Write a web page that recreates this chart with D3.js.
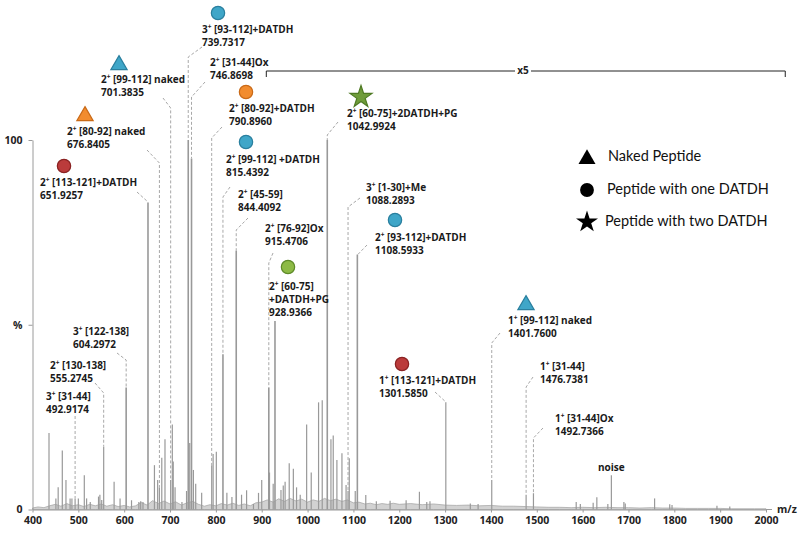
<!DOCTYPE html>
<html><head><meta charset="utf-8">
<script src="https://cdn.jsdelivr.net/npm/d3@7"></script>
<style>body{margin:0;background:#fff} svg{display:block}</style>
</head><body>
<svg id="chart" width="800" height="533"></svg>
<script>
// ---------- DATA ----------
const xTickValues = [400,500,600,700,800,900,1000,1100,1200,1300,1400,1500,1600,1700,1800,1900,2000];
const yTickValues = [0, 50, 100];
const yTickLabels = ["0", "%", "100"];

// major (annotated) peaks: m/z and displayed relative intensity (%)
const peakMz  = [492.9174, 555.2745, 604.2972, 651.9257, 676.8405, 701.3835, 739.7317, 746.8698, 790.8960, 815.4392, 844.4092, 915.4706, 928.9366, 1042.9924, 1088.2893, 1108.5933, 1301.5850, 1401.7600, 1476.7381, 1492.7366, 1662.7];
const peakInt = [3, 17, 33, 83, 6, 8, 100, 95, 12, 42, 70, 33, 51, 100, 5, 69, 29, 8, 4, 4.4, 9.3];

// minor peaks
const minorMz  = [436, 451, 456, 465, 473, 482, 486, 500, 513, 518, 526, 544, 547, 551, 578, 591, 616, 632, 636, 641, 666, 673, 682, 689, 705, 707, 711, 726, 736, 743, 751, 756, 769, 794, 801, 824, 835, 856, 867, 882, 893, 900, 917, 925, 942, 947, 951, 960, 969, 976, 984, 998, 1008, 1024, 1032, 1051, 1056, 1064, 1075, 1084, 1091, 1104, 1127, 1150, 1180, 1215, 1244, 1260, 1267, 1355, 1372, 1586, 1595, 1623, 1631, 1655, 1690, 1693, 1757, 1790, 1795, 1893, 1921];
const minorInt = [20.7, 3, 6, 16, 8, 3, 3, 3, 9.3, 3, 2, 3.5, 4, 2.6, 7.5, 3, 2.5, 2, 2.2, 2, 12, 8, 14, 19, 23, 13, 6, 2, 5, 18, 10.7, 7, 4.5, 15, 15.6, 4.5, 3.4, 4, 5.2, 1.5, 4.5, 8, 10, 7, 5.3, 6.5, 7.5, 12.5, 11, 6, 4, 23, 10, 29, 29.6, 19, 20, 13.4, 15.2, 6.6, 13.9, 5, 3.9, 2.2, 2.4, 2.5, 4.8, 2, 2.2, 1.6, 1.5, 2, 1.5, 1.8, 3.3, 1.5, 2, 1.6, 3, 1.4, 1.2, 1, 0.8];

// baseline noise floor (%)
const floorMz  = [400,412,425,437,450,462,475,487,500,512,525,537,550,562,575,587,600,612,625,637,650,662,675,687,700,712,725,737,750,762,775,787,800,812,825,837,850,862,875,887,900,912,925,937,950,962,975,987,1000,1012,1025,1037,1050,1062,1075,1087,1100,1112,1125,1137,1150,1162,1175,1187,1200,1225,1250,1275,1300,1325,1350,1375,1400,1425,1450,1475,1500,1525,1550,1575,1600,1625,1650,1675,1700,1725,1750,1775,1800,1825,1850,1875,1900,1925,1950,1975,2000];
const floorInt = [0.4,0.7,0.5,1.0,1.4,0.9,1.6,1.0,1.3,0.8,1.4,1.0,1.5,0.9,1.3,0.8,1.1,0.7,1.0,1.9,1.2,2.4,1.6,2.3,1.5,2.1,1.2,1.8,2.2,1.4,0.9,1.3,1.0,1.6,1.2,1.7,1.1,1.5,1.0,1.8,2.0,2.6,2.0,2.9,2.2,3.0,2.3,2.8,2.0,2.6,2.2,3.0,2.4,2.8,2.2,2.6,1.8,2.0,1.5,1.7,1.3,1.6,1.4,1.7,1.4,1.6,1.3,1.5,1.2,1.1,1.2,1.0,1.1,0.9,0.9,0.8,0.7,0.6,0.6,0.5,0.6,0.5,0.6,0.5,0.5,0.4,0.5,0.4,0.4,0.3,0.3,0.3,0.3,0.2,0.2,0.2,0.2];

// annotations
const annMz     = [739.7317, 746.8698, 701.3835, 790.8960, 676.8405, 815.4392, 651.9257, 844.4092, 915.4706, 928.9366, 1042.9924, 1088.2893, 1108.5933, 604.2972, 555.2745, 492.9174, 1301.5850, 1401.7600, 1476.7381, 1492.7366];
const annCharge = ["3","2","2","2","2","2","2","2","2","2","2","3","2","3","2","3","1","1","1","1"];
const annLine1  = [" [93-112]+DATDH"," [31-44]Ox"," [99-112] naked"," [80-92]+DATDH"," [80-92] naked"," [99-112] +DATDH"," [113-121]+DATDH"," [45-59]"," [76-92]Ox"," [60-75]"," [60-75]+2DATDH+PG"," [1-30]+Me"," [93-112]+DATDH"," [122-138]"," [130-138]"," [31-44]"," [113-121]+DATDH"," [99-112] naked"," [31-44]"," [31-44]Ox"];
const annExtra  = [null,null,null,null,null,null,null,null,null,"+DATDH+PG",null,null,null,null,null,null,null,null,null,null];
const annMass   = ["739.7317","746.8698","701.3835","790.8960","676.8405","815.4392","651.9257","844.4092","915.4706","928.9366","1042.9924","1088.2893","1108.5933","604.2972","555.2745","492.9174","1301.5850","1401.7600","1476.7381","1492.7366"];
const annMarker = ["circle",null,"triangle","circle","triangle","circle","circle",null,null,"circle","star",null,"circle",null,null,null,"circle","triangle",null,null];
const annColor  = ["blue",null,"blue","orange","orange","blue","red",null,null,"green","darkgreen",null,"blue",null,null,null,"red","blue",null,null];

const legendLabels = ["Naked Peptide", "Peptide with one DATDH", "Peptide with two DATDH"];
const legendShapes = ["triangle", "circle", "star"];

const noiseLabel = "noise";
const zoomLabel = "x5";
const zoomStart = 910, zoomEnd = 2042;

// ---------- LAYOUT / STYLE ----------
const palette = {
  blue:{fill:"#3fa6c8", stroke:"#2a7f9e"},
  orange:{fill:"#f28c2e", stroke:"#c96a18"},
  red:{fill:"#bb3b3b", stroke:"#8a2222"},
  green:{fill:"#8dba45", stroke:"#5e8a28"},
  darkgreen:{fill:"#6f9c3a", stroke:"#4f7a24"}
};
// label anchor (left x, centre y of first line), marker position, leader start and knee y
const annLayout = [
  {lx:202, ly:30,  mx:218, my:13,  sx:202, sy:47,  ky:57},
  {lx:210, ly:63,  sx:205, sy:82,  ky:97},
  {lx:101, ly:80,  mx:119, my:63,  sx:163, sy:98,  ky:108},
  {lx:229, ly:109, mx:246, my:92,  sx:222, sy:127, ky:138},
  {lx:67,  ly:132, mx:85,  my:114, sx:147, sy:150, ky:163},
  {lx:226, ly:160, mx:246, my:142, sx:230, sy:187, ky:197},
  {lx:40,  ly:183, mx:64,  my:166, sx:137, sy:192, ky:202},
  {lx:238, ly:195, sx:248, sy:218, ky:230},
  {lx:265, ly:229, sx:273, sy:253, ky:263},
  {lx:269, ly:287, mx:288, my:267, nolead:true},
  {lx:347, ly:114, mx:361, my:97,  sx:338, sy:122, ky:135},
  {lx:366, ly:188, sx:360, sy:198, ky:207},
  {lx:375, ly:238, mx:395, my:220, sx:367, sy:245, ky:255},
  {lx:73,  ly:332, sx:117, sy:353, ky:360},
  {lx:50,  ly:366, sx:95,  sy:383, ky:393},
  {lx:46,  ly:397, sx:null, sy:416, ky:416},
  {lx:379, ly:381, mx:402, my:364, sx:435, sy:392, ky:402},
  {lx:508, ly:321, mx:526, my:303, sx:500, sy:333, ky:343},
  {lx:540, ly:367, sx:533, sy:377, ky:387},
  {lx:555, ly:419, sx:543, sy:428, ky:438}
];

const svg = d3.select("#chart");
const x = d3.scaleLinear().domain([400, 2000]).range([32.5, 766]);
const y = d3.scaleLinear().domain([0, 100]).range([509.5, 140]);

const labelFont = "'Open Sans', 'DejaVu Sans', sans-serif";
const legendFont = "Lato, 'Open Sans', sans-serif";
const labelSize = "10px";
const peakColor = "#999";

// ---- noise floor ----
const floorData = floorMz.map((m, i) => [m, floorInt[i]]);
svg.append("path")
  .attr("d", d3.area().x(d => x(d[0])).y0(y(0)).y1(d => y(d[1])).curve(d3.curveLinear)(floorData))
  .attr("fill", "#d2d2d2").attr("stroke", "#a0a0a0").attr("stroke-width", 0.7);

// ---- peaks ----
const allPeaks = minorMz.map((m, i) => ({mz: m, h: minorInt[i]}))
  .concat(peakMz.map((m, i) => ({mz: m, h: peakInt[i]})));
svg.append("g").selectAll("line").data(allPeaks).join("line")
  .attr("x1", d => x(d.mz)).attr("x2", d => x(d.mz))
  .attr("y1", y(0)).attr("y2", d => y(d.h))
  .attr("stroke", peakColor).attr("stroke-width", d => d.h > 30 ? 1.6 : 1.2);

// ---- axes ----
const axisColor = "#9a9a9a";
const xAxis = d3.axisBottom(x).tickValues(xTickValues).tickFormat(d3.format("d")).tickSize(3).tickSizeOuter(0).tickPadding(4);
const gx = svg.append("g").attr("transform", `translate(0,${y(0)})`).call(xAxis);
gx.select(".domain").attr("stroke", axisColor);
gx.selectAll(".tick line").attr("stroke", axisColor);
gx.selectAll(".tick text").attr("font-family", labelFont).attr("font-weight", "bold")
  .attr("font-size", "10.5px").attr("fill", "#222");
svg.append("line").attr("x1", x(2000)).attr("x2", x(2000) + 6).attr("y1", y(0)).attr("y2", y(0)).attr("stroke", axisColor);
svg.append("text").attr("x", 777).attr("y", y(0) + 1).attr("dominant-baseline", "middle")
  .attr("font-family", labelFont).attr("font-weight", "bold").attr("font-size", "10.5px").attr("fill", "#222").text("m/z");

const yAxis = d3.axisLeft(y).tickValues(yTickValues).tickFormat((d, i) => yTickLabels[i]).tickSize(4).tickSizeOuter(0).tickPadding(6);
const gy = svg.append("g").attr("transform", `translate(${x(400)},0)`).call(yAxis);
gy.select(".domain").attr("stroke", axisColor);
gy.selectAll(".tick line").attr("stroke", axisColor);
gy.selectAll(".tick text").attr("font-family", labelFont).attr("font-weight", "bold")
  .attr("font-size", "10.5px").attr("fill", "#222");

// ---- x5 bracket ----
const bY = 71;
const bracket = svg.append("g");
bracket.append("path")
  .attr("d", `M${x(zoomStart)},${bY + 6}V${bY}H${x(zoomEnd)}V${bY + 6}`)
  .attr("fill", "none").attr("stroke", "#222").attr("stroke-width", 1);
const bxMid = 523;
bracket.append("rect").attr("x", bxMid - 8).attr("y", bY - 6).attr("width", 16).attr("height", 12).attr("fill", "#fff");
bracket.append("text").attr("x", bxMid).attr("y", bY).attr("text-anchor", "middle").attr("dominant-baseline", "middle")
  .attr("font-family", labelFont).attr("font-weight", "bold").attr("font-size", labelSize).attr("fill", "#222").text(zoomLabel);

// ---- annotation leaders ----
const leaderG = svg.append("g").attr("fill", "none").attr("stroke", "#a8a8a8").attr("stroke-width", 1).attr("stroke-dasharray", "3,2");
annMz.forEach((m, i) => {
  const L = annLayout[i];
  if (L.nolead) return;
  const px = x(m);
  const top = y(peakInt[peakMz.indexOf(m)]);
  let d;
  if (L.sx === null) d = `M${px},${L.sy}`;
  else d = `M${L.sx},${L.sy}L${px},${L.ky}`;
  if (top > L.ky) d += `V${top}`;
  leaderG.append("path").attr("d", d);
});

// ---- annotation labels ----
const lineH = 13;
const labelG = svg.append("g").attr("font-family", labelFont).attr("font-weight", "bold").attr("font-size", labelSize).attr("fill", "#1a1a1a");
annMz.forEach((m, i) => {
  const L = annLayout[i];
  const t = labelG.append("text").attr("x", L.lx).attr("y", L.ly).attr("dominant-baseline", "middle");
  t.append("tspan").text(annCharge[i]);
  t.append("tspan").attr("font-size", "6.5px").attr("dy", -3).text("+");
  t.append("tspan").attr("dy", 3).text(annLine1[i]);
  let ly = L.ly + lineH;
  if (annExtra[i]) {
    labelG.append("text").attr("x", L.lx).attr("y", ly).attr("dominant-baseline", "middle").text(annExtra[i]);
    ly += lineH;
  }
  labelG.append("text").attr("x", L.lx).attr("y", ly).attr("dominant-baseline", "middle").text(annMass[i]);
});

// noise label
svg.append("text").attr("x", x(1662.7)).attr("y", 468).attr("text-anchor", "middle").attr("dominant-baseline", "middle")
  .attr("font-family", labelFont).attr("font-weight", "bold").attr("font-size", labelSize).attr("fill", "#1a1a1a").text(noiseLabel);

// ---- markers ----
const symType = {circle: d3.symbolCircle, triangle: d3.symbolTriangle, star: d3.symbolStar};
const symSize = {circle: 140, triangle: 115, star: 150};
const markG = svg.append("g");
annMz.forEach((m, i) => {
  if (!annMarker[i]) return;
  const L = annLayout[i];
  const c = palette[annColor[i]];
  const s = annMarker[i];
  markG.append("path")
    .attr("d", d3.symbol().type(symType[s]).size(symSize[s])())
    .attr("transform", `translate(${L.mx},${L.my + (s === "triangle" ? 2 : 0)})`)
    .attr("fill", c.fill).attr("stroke", c.stroke).attr("stroke-width", 1.2);
});

// ---- legend ----
const legY = [157, 190, 222];
const legG = svg.append("g");
const legSize = {circle: 150, triangle: 125, star: 150};
legendLabels.forEach((lab, i) => {
  const s = legendShapes[i];
  legG.append("path").attr("d", d3.symbol().type(symType[s]).size(legSize[s])())
    .attr("transform", `translate(587,${legY[i] + (s === "triangle" ? 2 : 0)})`).attr("fill", "#000");
  legG.append("text").attr("x", i === 0 ? 608 : (i === 1 ? 607 : 605)).attr("y", legY[i]).attr("dominant-baseline", "middle")
    .attr("font-family", legendFont).attr("font-size", "14.5px").attr("fill", "#111").text(lab);
});
</script>
</body></html>
